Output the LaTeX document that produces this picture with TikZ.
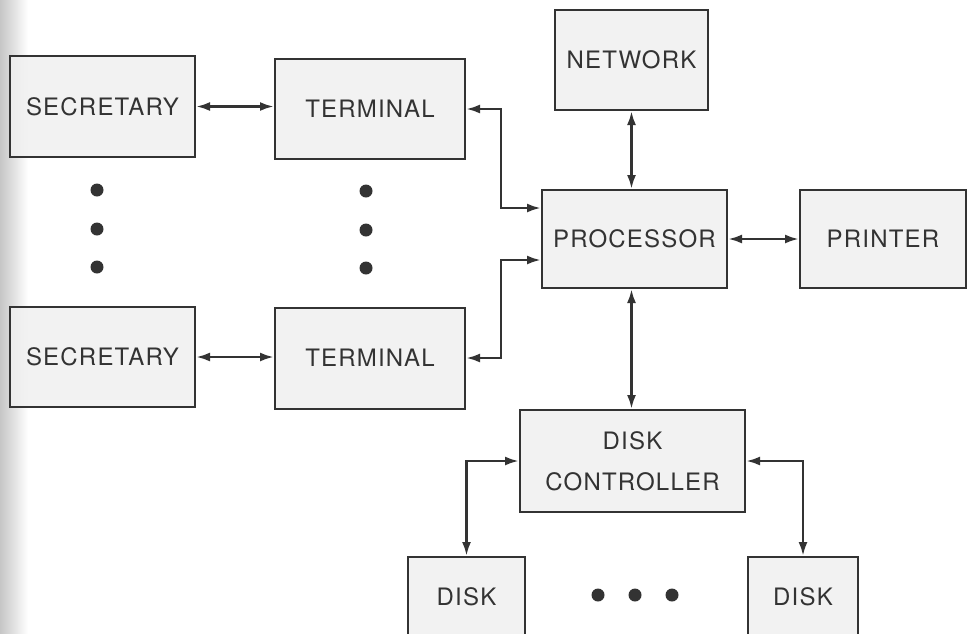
\documentclass[tikz,border=0pt]{standalone}
\usepackage{fontspec}
\setmainfont{TeX Gyre Heros}[LetterSpace=5]
\usetikzlibrary{arrows.meta,calc}
\definecolor{ink}{HTML}{333333}
\definecolor{boxfill}{HTML}{F0F0F0}
\tikzset{
  blk/.style={draw=ink, line width=2pt, fill=boxfill, fill opacity=0.85, text opacity=1,
    text=ink, font=\fontsize{24}{29}\selectfont, align=center, inner sep=0pt},
  link/.style={draw=ink, line width=2.6pt, {Latex[length=14pt,width=9pt]}-{Latex[length=14pt,width=9pt]}},
  dotmark/.style={circle, fill=ink, inner sep=0pt, minimum size=13pt}
}
\begin{document}
\begin{tikzpicture}[x=1pt,y=-1pt]
\useasboundingbox (0,0) rectangle (968,633);
\clip (0,0) rectangle (968,633);
\shade[left color=gray!45, right color=white] (0,0) rectangle (28,633);
\node[blk, minimum width=185pt, minimum height=101pt] (sec1) at (102.5,106.5) {SECRETARY};
\node[blk, minimum width=185pt, minimum height=100pt] (sec2) at (102.5,357) {SECRETARY};
\node[blk, minimum width=190pt, minimum height=100pt] (term1) at (370,109) {TERMINAL};
\node[blk, minimum width=190pt, minimum height=101pt] (term2) at (370,358) {TERMINAL};
\node[blk, minimum width=153pt, minimum height=100pt] (net) at (631.5,60) {NETWORK};
\node[blk, minimum width=185pt, minimum height=98pt] (proc) at (634.5,239) {PROCESSOR};
\node[blk, minimum width=166pt, minimum height=98pt] (prn) at (883,239) {PRINTER};
\node[blk, minimum width=225pt, minimum height=102pt] (ctrl) at (632.5,461) {DISK\\[12pt]CONTROLLER};
\node[blk, minimum width=117pt, minimum height=80pt] (disk1) at (466.5,597) {DISK};
\node[blk, minimum width=110pt, minimum height=80pt] (disk2) at (803,597) {DISK};
% dots
\foreach \y [count=\i] in {190,229,267} {
  \node[dotmark] (ls\i) at (97,\y) {};
  \node[dotmark] (ms\i) at (366,\y+1) {};
}
\foreach \x [count=\i] in {598,635,672} \node[dotmark] (bd\i) at (\x,595) {};
% connectors
\draw[link] (sec1.east) -- (term1.west |- sec1.east);
\draw[link] (sec2.east) -- (term2.west |- sec2.east);
\draw[link] (term1.east) -- ++(35,0) |- ($(proc.west)+(0,-31)$);
\draw[link] (term2.east) -- ++(35,0) |- ($(proc.west)+(0,21)$);
\draw[link] (net.south) -- (net.south |- proc.north);
\draw[link] (proc.east) -- (prn.west);
\draw[link] (proc.south -| net.south) -- (net.south |- ctrl.north);
\draw[link] (ctrl.west) -| (disk1.north);
\draw[link] (ctrl.east) -| (disk2.north);
\end{tikzpicture}
\end{document}
